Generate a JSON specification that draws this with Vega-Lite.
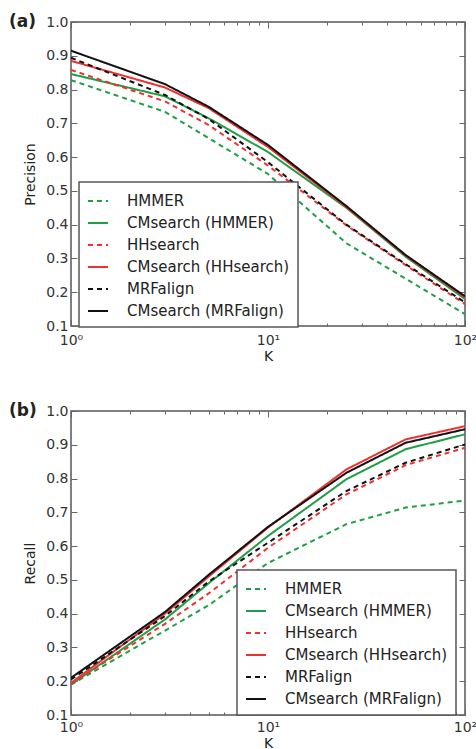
{
  "$schema": "https://vega.github.io/schema/vega-lite/v6.json",
  "padding": {"left": 8, "top": 12, "right": 0, "bottom": 0},
  "spacing": 37,
  "config": {
    "font": "DejaVu Sans",
    "view": {"stroke": "#555", "strokeWidth": 1.5},
    "axis": {
      "domain": false,
      "grid": false,
      "labelFontSize": 14,
      "labelColor": "#333",
      "titleFontSize": 14,
      "titleFontWeight": "normal",
      "titleColor": "#222",
      "tickColor": "#666",
      "tickWidth": 1
    },
    "legend": {
      "orient": "none",
      "strokeColor": "#555",
      "strokeWidth": 1.5,
      "fillColor": "white",
      "padding": 8,
      "symbolType": "stroke",
      "symbolSize": 400,
      "labelFontSize": 15,
      "labelColor": "#222",
      "labelOffset": 18,
      "labelLimit": 300,
      "rowPadding": 3,
      "titlePadding": 0
    },
    "title": {"fontSize": 17, "fontWeight": "bold", "color": "#222"}
  },
  "datasets": {
    "precision": [
      {"method": "HMMER", "K": 1, "value": 0.828}, {"method": "HMMER", "K": 3, "value": 0.734}, {"method": "HMMER", "K": 5, "value": 0.656}, {"method": "HMMER", "K": 10, "value": 0.55}, {"method": "HMMER", "K": 25, "value": 0.345}, {"method": "HMMER", "K": 50, "value": 0.24}, {"method": "HMMER", "K": 100, "value": 0.135},
      {"method": "CMsearch (HMMER)", "K": 1, "value": 0.846}, {"method": "CMsearch (HMMER)", "K": 3, "value": 0.78}, {"method": "CMsearch (HMMER)", "K": 5, "value": 0.715}, {"method": "CMsearch (HMMER)", "K": 10, "value": 0.615}, {"method": "CMsearch (HMMER)", "K": 25, "value": 0.45}, {"method": "CMsearch (HMMER)", "K": 50, "value": 0.305}, {"method": "CMsearch (HMMER)", "K": 100, "value": 0.18},
      {"method": "HHsearch", "K": 1, "value": 0.858}, {"method": "HHsearch", "K": 3, "value": 0.765}, {"method": "HHsearch", "K": 5, "value": 0.695}, {"method": "HHsearch", "K": 10, "value": 0.575}, {"method": "HHsearch", "K": 25, "value": 0.398}, {"method": "HHsearch", "K": 50, "value": 0.28}, {"method": "HHsearch", "K": 100, "value": 0.165},
      {"method": "CMsearch (HHsearch)", "K": 1, "value": 0.885}, {"method": "CMsearch (HHsearch)", "K": 3, "value": 0.806}, {"method": "CMsearch (HHsearch)", "K": 5, "value": 0.745}, {"method": "CMsearch (HHsearch)", "K": 10, "value": 0.63}, {"method": "CMsearch (HHsearch)", "K": 25, "value": 0.452}, {"method": "CMsearch (HHsearch)", "K": 50, "value": 0.308}, {"method": "CMsearch (HHsearch)", "K": 100, "value": 0.185},
      {"method": "MRFalign", "K": 1, "value": 0.894}, {"method": "MRFalign", "K": 3, "value": 0.784}, {"method": "MRFalign", "K": 5, "value": 0.713}, {"method": "MRFalign", "K": 10, "value": 0.585}, {"method": "MRFalign", "K": 25, "value": 0.4}, {"method": "MRFalign", "K": 50, "value": 0.283}, {"method": "MRFalign", "K": 100, "value": 0.17},
      {"method": "CMsearch (MRFalign)", "K": 1, "value": 0.915}, {"method": "CMsearch (MRFalign)", "K": 3, "value": 0.816}, {"method": "CMsearch (MRFalign)", "K": 5, "value": 0.749}, {"method": "CMsearch (MRFalign)", "K": 10, "value": 0.636}, {"method": "CMsearch (MRFalign)", "K": 25, "value": 0.455}, {"method": "CMsearch (MRFalign)", "K": 50, "value": 0.31}, {"method": "CMsearch (MRFalign)", "K": 100, "value": 0.188}
    ],
    "recall": [
      {"method": "HMMER", "K": 1, "value": 0.19}, {"method": "HMMER", "K": 3, "value": 0.35}, {"method": "HMMER", "K": 5, "value": 0.425}, {"method": "HMMER", "K": 10, "value": 0.55}, {"method": "HMMER", "K": 25, "value": 0.665}, {"method": "HMMER", "K": 50, "value": 0.714}, {"method": "HMMER", "K": 100, "value": 0.735},
      {"method": "CMsearch (HMMER)", "K": 1, "value": 0.19}, {"method": "CMsearch (HMMER)", "K": 3, "value": 0.383}, {"method": "CMsearch (HMMER)", "K": 5, "value": 0.49}, {"method": "CMsearch (HMMER)", "K": 10, "value": 0.63}, {"method": "CMsearch (HMMER)", "K": 25, "value": 0.798}, {"method": "CMsearch (HMMER)", "K": 50, "value": 0.887}, {"method": "CMsearch (HMMER)", "K": 100, "value": 0.931},
      {"method": "HHsearch", "K": 1, "value": 0.193}, {"method": "HHsearch", "K": 3, "value": 0.37}, {"method": "HHsearch", "K": 5, "value": 0.46}, {"method": "HHsearch", "K": 10, "value": 0.595}, {"method": "HHsearch", "K": 25, "value": 0.753}, {"method": "HHsearch", "K": 50, "value": 0.84}, {"method": "HHsearch", "K": 100, "value": 0.891},
      {"method": "CMsearch (HHsearch)", "K": 1, "value": 0.195}, {"method": "CMsearch (HHsearch)", "K": 3, "value": 0.4}, {"method": "CMsearch (HHsearch)", "K": 5, "value": 0.51}, {"method": "CMsearch (HHsearch)", "K": 10, "value": 0.655}, {"method": "CMsearch (HHsearch)", "K": 25, "value": 0.827}, {"method": "CMsearch (HHsearch)", "K": 50, "value": 0.916}, {"method": "CMsearch (HHsearch)", "K": 100, "value": 0.955},
      {"method": "MRFalign", "K": 1, "value": 0.205}, {"method": "MRFalign", "K": 3, "value": 0.393}, {"method": "MRFalign", "K": 5, "value": 0.495}, {"method": "MRFalign", "K": 10, "value": 0.61}, {"method": "MRFalign", "K": 25, "value": 0.763}, {"method": "MRFalign", "K": 50, "value": 0.847}, {"method": "MRFalign", "K": 100, "value": 0.901},
      {"method": "CMsearch (MRFalign)", "K": 1, "value": 0.21}, {"method": "CMsearch (MRFalign)", "K": 3, "value": 0.405}, {"method": "CMsearch (MRFalign)", "K": 5, "value": 0.515}, {"method": "CMsearch (MRFalign)", "K": 10, "value": 0.657}, {"method": "CMsearch (MRFalign)", "K": 25, "value": 0.817}, {"method": "CMsearch (MRFalign)", "K": 50, "value": 0.906}, {"method": "CMsearch (MRFalign)", "K": 100, "value": 0.946}
    ]
  },
  "vconcat": [
    {
      "width": 394,
      "height": 304,
      "title": {"text": "(a)", "anchor": "start", "frame": "group", "dx": -62, "dy": 24, "baseline": "middle", "offset": 0},
      "data": {"name": "precision"},
      "layer": [
        {
          "mark": {"type": "line", "clip": true},
          "encoding": {
            "x": {"field": "K", "type": "quantitative", "scale": {"type": "log", "domain": [1, 100]},
              "axis": {"title": "K", "values": [1,2,3,4,5,6,7,8,9,10,20,30,40,50,60,70,80,90,100], "labelExpr": "datum.value == 1 ? '10⁰' : datum.value == 10 ? '10¹' : datum.value == 100 ? '10²' : ''", "tickSize": {"condition": {"test": "datum.value == 1 || datum.value == 10 || datum.value == 100", "value": -6}, "value": -3}, "labelPadding": 13, "titlePadding": 2, "labelFlush": false}},
            "y": {"field": "value", "type": "quantitative", "scale": {"domain": [0.1, 1.0]},
              "axis": {"title": "Precision", "values": [0.1,0.2,0.3,0.4,0.5,0.6,0.7,0.8,0.9,1.0], "format": ".1f", "tickSize": -6, "labelPadding": 9, "titlePadding": 8}},
            "color": {"field": "method", "type": "nominal", "title": null,
              "scale": {"domain": ["HMMER", "CMsearch (HMMER)", "HHsearch", "CMsearch (HHsearch)", "MRFalign", "CMsearch (MRFalign)"], "range": ["#1f9e45", "#1f9e45", "#f03030", "#f03030", "#111111", "#111111"]},
              "legend": {"legendX": 8, "legendY": 160}},
            "strokeDash": {"field": "method", "type": "nominal", "title": null,
              "scale": {"domain": ["HMMER", "CMsearch (HMMER)", "HHsearch", "CMsearch (HHsearch)", "MRFalign", "CMsearch (MRFalign)"], "range": [[5, 4], [1, 0], [5, 4], [1, 0], [5, 4], [1, 0]]},
              "legend": {"legendX": 8, "legendY": 160}},
            "strokeWidth": {"field": "method", "type": "nominal", "title": null,
              "scale": {"domain": ["HMMER", "CMsearch (HMMER)", "HHsearch", "CMsearch (HHsearch)", "MRFalign", "CMsearch (MRFalign)"], "range": [2, 2, 2, 3, 2, 2]},
              "legend": {"legendX": 8, "legendY": 160}}
          }
        },
        {
          "mark": {"type": "line", "opacity": 0},
          "encoding": {
            "x": {"field": "K", "type": "quantitative", "axis": {"orient": "top", "title": null, "labels": false, "values": [1,2,3,4,5,6,7,8,9,10,20,30,40,50,60,70,80,90,100], "tickSize": {"condition": {"test": "datum.value == 1 || datum.value == 10 || datum.value == 100", "value": -6}, "value": -3}}},
            "y": {"field": "value", "type": "quantitative", "axis": {"orient": "right", "title": null, "labels": false, "values": [0.1,0.2,0.3,0.4,0.5,0.6,0.7,0.8,0.9,1.0], "tickSize": -6}},
            "detail": {"field": "method"}
          }
        }
      ],
      "resolve": {"axis": {"x": "independent", "y": "independent"}}
    },
    {
      "width": 394,
      "height": 304,
      "title": {"text": "(b)", "anchor": "start", "frame": "group", "dx": -62, "dy": 24, "baseline": "middle", "offset": 0},
      "data": {"name": "recall"},
      "layer": [
        {
          "mark": {"type": "line", "clip": true},
          "encoding": {
            "x": {"field": "K", "type": "quantitative", "scale": {"type": "log", "domain": [1, 100]},
              "axis": {"title": "K", "values": [1,2,3,4,5,6,7,8,9,10,20,30,40,50,60,70,80,90,100], "labelExpr": "datum.value == 1 ? '10⁰' : datum.value == 10 ? '10¹' : datum.value == 100 ? '10²' : ''", "tickSize": {"condition": {"test": "datum.value == 1 || datum.value == 10 || datum.value == 100", "value": -6}, "value": -3}, "labelPadding": 11, "titlePadding": 2, "labelFlush": false}},
            "y": {"field": "value", "type": "quantitative", "scale": {"domain": [0.1, 1.0]},
              "axis": {"title": "Recall", "values": [0.1,0.2,0.3,0.4,0.5,0.6,0.7,0.8,0.9,1.0], "format": ".1f", "tickSize": -6, "labelPadding": 9, "titlePadding": 8}},
            "color": {"field": "method", "type": "nominal", "title": null,
              "scale": {"domain": ["HMMER", "CMsearch (HMMER)", "HHsearch", "CMsearch (HHsearch)", "MRFalign", "CMsearch (MRFalign)"], "range": ["#1f9e45", "#1f9e45", "#f03030", "#f03030", "#111111", "#111111"]},
              "legend": {"legendX": 166, "legendY": 159}},
            "strokeDash": {"field": "method", "type": "nominal", "title": null,
              "scale": {"domain": ["HMMER", "CMsearch (HMMER)", "HHsearch", "CMsearch (HHsearch)", "MRFalign", "CMsearch (MRFalign)"], "range": [[5, 4], [1, 0], [5, 4], [1, 0], [5, 4], [1, 0]]},
              "legend": {"legendX": 166, "legendY": 159}},
            "strokeWidth": {"field": "method", "type": "nominal", "title": null,
              "scale": {"domain": ["HMMER", "CMsearch (HMMER)", "HHsearch", "CMsearch (HHsearch)", "MRFalign", "CMsearch (MRFalign)"], "range": [2, 2, 2, 3, 2, 2]},
              "legend": {"legendX": 166, "legendY": 159}}
          }
        },
        {
          "mark": {"type": "line", "opacity": 0},
          "encoding": {
            "x": {"field": "K", "type": "quantitative", "axis": {"orient": "top", "title": null, "labels": false, "values": [1,2,3,4,5,6,7,8,9,10,20,30,40,50,60,70,80,90,100], "tickSize": {"condition": {"test": "datum.value == 1 || datum.value == 10 || datum.value == 100", "value": -6}, "value": -3}}},
            "y": {"field": "value", "type": "quantitative", "axis": {"orient": "right", "title": null, "labels": false, "values": [0.1,0.2,0.3,0.4,0.5,0.6,0.7,0.8,0.9,1.0], "tickSize": -6}},
            "detail": {"field": "method"}
          }
        }
      ],
      "resolve": {"axis": {"x": "independent", "y": "independent"}}
    }
  ],
  "resolve": {"scale": {"color": "independent", "strokeDash": "independent", "strokeWidth": "independent"}, "legend": {"color": "independent", "strokeDash": "independent", "strokeWidth": "independent"}}
}
